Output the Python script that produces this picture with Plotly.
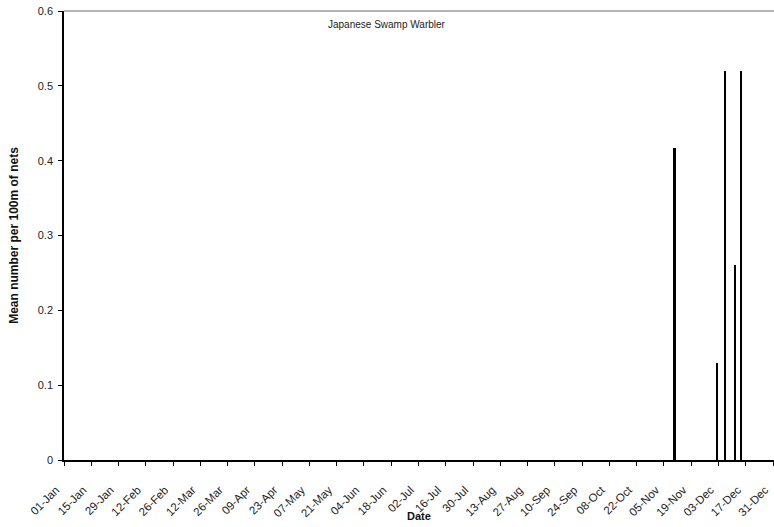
import plotly.graph_objects as go

# Capture dates (daily bins) and mean catch per 100 m of nets
dates = ["2009-11-10", "2009-12-02", "2009-12-06", "2009-12-11", "2009-12-14"]
values = [0.4167, 0.13, 0.52, 0.26, 0.52]

# Fortnightly axis ticks
tick_dates = ["2009-01-01", "2009-01-15", "2009-01-29", "2009-02-12", "2009-02-26",
              "2009-03-12", "2009-03-26", "2009-04-09", "2009-04-23", "2009-05-07",
              "2009-05-21", "2009-06-04", "2009-06-18", "2009-07-02", "2009-07-16",
              "2009-07-30", "2009-08-13", "2009-08-27", "2009-09-10", "2009-09-24",
              "2009-10-08", "2009-10-22", "2009-11-05", "2009-11-19", "2009-12-03",
              "2009-12-17", "2009-12-31"]
tick_labels = ["01-Jan", "15-Jan", "29-Jan", "12-Feb", "26-Feb", "12-Mar", "26-Mar",
               "09-Apr", "23-Apr", "07-May", "21-May", "04-Jun", "18-Jun", "02-Jul",
               "16-Jul", "30-Jul", "13-Aug", "27-Aug", "10-Sep", "24-Sep", "08-Oct",
               "22-Oct", "05-Nov", "19-Nov", "03-Dec", "17-Dec", "31-Dec"]
y_ticks = [0, 0.1, 0.2, 0.3, 0.4, 0.5, 0.6]
y_labels = ["0", "0.1", "0.2", "0.3", "0.4", "0.5", "0.6"]

DAY_MS = 86400000
FONT = "Liberation Sans, Arial, sans-serif"
PLOT_H = 449  # plot-area height in px (527 - 11 - 67)

fig = go.Figure(go.Bar(
    x=dates, y=values,
    xperiod=DAY_MS, xperiodalignment="middle",
    width=DAY_MS * 0.9,
    marker=dict(color="black", line=dict(width=0)),
))

fig.update_layout(
    width=774, height=527,
    margin=dict(l=64, r=0, t=11, b=67, autoexpand=False),
    paper_bgcolor="white", plot_bgcolor="white",
    showlegend=False,
    font=dict(family=FONT, size=11, color="#222"),
    bargap=0,
    xaxis=dict(
        type="date", automargin=False,
        range=["2009-01-01", "2009-12-31 12:00"],
        tickmode="array", tickvals=tick_dates, ticktext=tick_labels,
        tickangle=-45, tickfont=dict(size=11.5, family=FONT, color="#222"),
        ticklabeloverflow="allow", ticklabelstandoff=13, ticklabelshift=-8,
        ticks="outside", ticklen=4, tickcolor="black", tickwidth=1,
        showline=True, linecolor="black", linewidth=1.5,
        showgrid=False, zeroline=False,
    ),
    yaxis=dict(
        range=[0, 0.6], automargin=False,
        tickmode="array", tickvals=y_ticks, ticktext=y_labels,
        tickfont=dict(size=11, family=FONT, color="#222"),
        ticklabelstandoff=3,
        ticks="outside", ticklen=4, tickcolor="black", tickwidth=1,
        showline=True, linecolor="black", linewidth=1.5,
        showgrid=False, zeroline=False,
        title=dict(text="<b>Mean number per 100m of nets</b>",
                   font=dict(size=12, family=FONT, color="#111"), standoff=17),
    ),
    shapes=[dict(type="line", xref="paper", yref="paper", x0=0, x1=1, y0=1, y1=1,
                 line=dict(color="#999", width=1.5))],
    annotations=[
        dict(text="Japanese Swamp Warbler", xref="paper", yref="paper",
             x=(387 - 64) / 710, y=1 - 13 / PLOT_H, xanchor="center",
             yanchor="middle", showarrow=False,
             font=dict(size=10, family=FONT, color="#222")),
        dict(text="<b>Date</b>", xref="paper", yref="paper",
             x=(419 - 64) / 710, y=-(516 - 460) / PLOT_H, xanchor="center",
             yanchor="middle", showarrow=False,
             font=dict(size=11, family=FONT, color="#111")),
    ],
)

fig.write_html("out.html")
